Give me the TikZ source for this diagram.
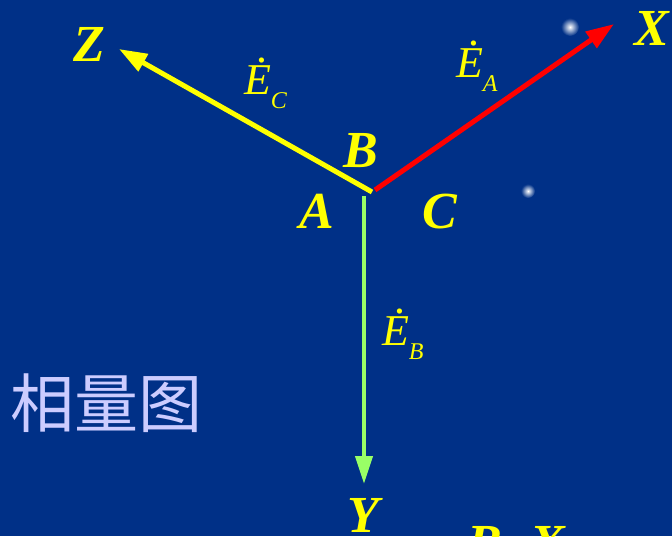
\documentclass[tikz,border=0pt]{standalone}
\usepackage{fontspec}
\setmainfont{Liberation Serif}
\newfontfamily\cjk{Noto Sans CJK SC}
\usetikzlibrary{arrows.meta}
\definecolor{bgblue}{HTML}{003087}
\definecolor{phyellow}{HTML}{FFFF00}
\definecolor{phred}{HTML}{FF0000}
\definecolor{phgreen}{HTML}{99FF66}
\definecolor{cjklav}{HTML}{CCCCFF}
% phasor symbol: E with a raised dot and a lowered subscript
\newcommand{\phasorE}[1]{\textit{\makebox[0pt][l]{\hspace{13pt}\raisebox{32pt}{.}}E}\raisebox{-14pt}{\fontsize{24}{24}\selectfont\textit{#1}}}

\begin{document}
\begin{tikzpicture}[
  x=1pt, y=-1pt,
  every node/.style={inner sep=0pt, outer sep=0pt},
  letter/.style={text=phyellow, anchor=base, font=\fontsize{52}{52}\selectfont\bfseries\itshape},
  phlabel/.style={text=phyellow, anchor=base west, font=\fontsize{44}{44}\selectfont},
  phline/.style={line width=5pt, -{Triangle[length=28pt,width=19pt]}},
  glow/.style={inner color=white, outer color=bgblue},
]
\clip (0,0) rectangle (672,536);
\fill[bgblue] (0,0) rectangle (672,536);

% glowing dots
\shade[glow] (570,27) circle (9);
\shade[glow] (528,191) circle (7);

% phasor origins and tips
\coordinate (oc) at (372,192);
\coordinate (oa) at (375,190);
\coordinate (ob) at (364,196);
\coordinate (tz) at (119,49);
\coordinate (tx) at (614,24);
\coordinate (ty) at (364,484);

\draw[phline, phyellow] (oc) -- (tz);
\draw[phline, phred] (oa) -- (tx);
\draw[phline, phgreen, line width=4pt, -{Triangle[length=28pt,width=17pt]}] (ob) -- (ty);

% axis letters
\node[letter] (zl) at (89,61) {Z};
\node[letter] (xl) at (652,45) {X};
\node[letter] (yl) at (363,532) {Y};
\node[letter] (bl) at (361,167) {B};
\node[letter] (al) at (317,228) {A};
\node[letter] (cl) at (440,228) {C};

% phasor labels
\node[phlabel] (ec) at (244,94) {\phasorE{C}};
\node[phlabel] (ea) at (456,77) {\phasorE{A}};
\node[phlabel] (eb) at (382,345) {\phasorE{B}};

\node[anchor=west, text=cjklav, font=\cjk\fontsize{64}{64}\selectfont] (title) at (10,403) {相量图};

% cut-off row at the bottom
\node[letter] (bb) at (485,560) {B};
\node[letter] (bx) at (548,560) {X};
\end{tikzpicture}
\end{document}
